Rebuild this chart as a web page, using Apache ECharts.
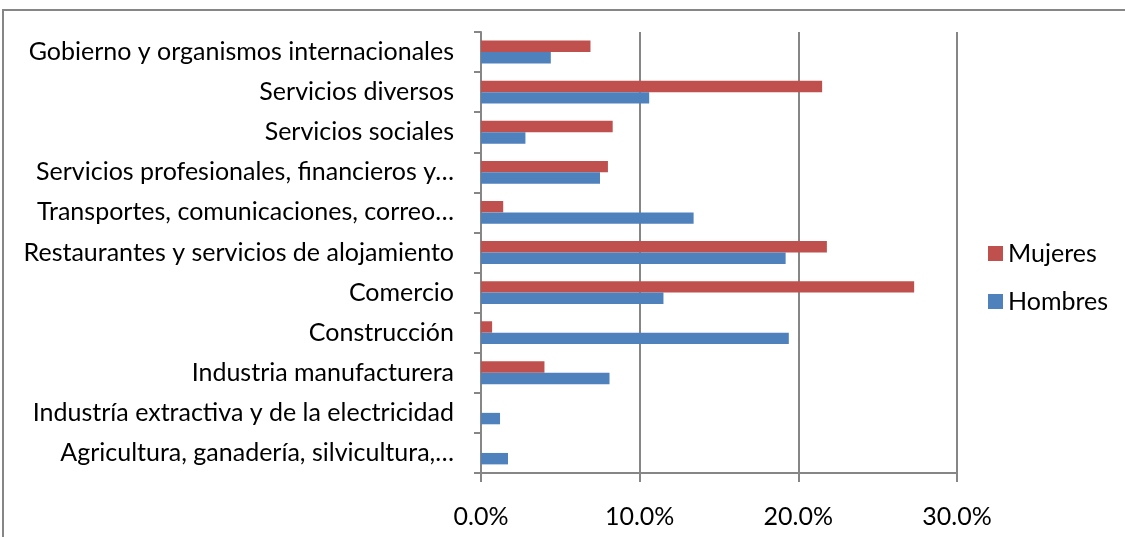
<!DOCTYPE html>
<html>
<head>
<meta charset="utf-8">
<script src="https://cdn.jsdelivr.net/npm/echarts@6/dist/echarts.min.js"></script>
<style>
html,body{margin:0;padding:0;background:#fff;}
#chart{width:1125px;height:537px;}
</style>
</head>
<body>
<div id="chart"></div>
<script>
const categories = [
  'Agricultura, ganadería, silvicultura,…',
  'Industría extractiva y de la electricidad',
  'Industria manufacturera',
  'Construcción',
  'Comercio',
  'Restaurantes y servicios de alojamiento',
  'Transportes, comunicaciones, correo…',
  'Servicios profesionales, financieros y…',
  'Servicios sociales',
  'Servicios diversos',
  'Gobierno y organismos internacionales'
];
const hombres = [1.7, 1.2, 8.1, 19.4, 11.5, 19.2, 13.4, 7.5, 2.8, 10.6, 4.4];
const mujeres = [0, 0, 4.0, 0.7, 27.3, 21.8, 1.4, 8.0, 8.3, 21.5, 6.9];
const xTicks = [0, 10, 20, 30];

const FONT = 'Lato';
const chart = echarts.init(document.getElementById('chart'));
chart.setOption({
  animation: false,
  textStyle: { fontFamily: FONT },
  graphic: [{
    type: 'rect',
    shape: { x: 3, y: 10, width: 1140, height: 560 },
    style: { fill: 'none', stroke: '#868686', lineWidth: 2 },
    silent: true
  }],
  legend: {
    data: ['Mujeres', 'Hombres'],
    orient: 'vertical',
    left: 983,
    top: 236,
    itemWidth: 15,
    itemHeight: 15,
    itemGap: 23,
    icon: 'rect',
    textStyle: { fontSize: 25, color: '#000', fontFamily: FONT }
  },
  grid: { left: 481, right: 168, top: 32, bottom: 64, containLabel: false },
  xAxis: {
    type: 'value',
    min: xTicks[0],
    max: xTicks[xTicks.length - 1],
    interval: 10,
    axisLine: { show: true, lineStyle: { color: '#868686', width: 2 } },
    axisTick: { show: true, length: 9, lineStyle: { color: '#868686', width: 2 } },
    splitLine: { show: true, lineStyle: { color: '#868686', width: 2 } },
    axisLabel: { margin: 31, fontSize: 25, color: '#000', fontFamily: FONT,
      formatter: v => v.toFixed(1) + '%' }
  },
  yAxis: {
    type: 'category',
    data: categories,
    axisLine: { show: true, lineStyle: { color: '#868686', width: 2 } },
    axisTick: { show: true, length: 7, lineStyle: { color: '#868686', width: 2 } },
    axisLabel: { margin: 27, fontSize: 25, color: '#000', fontFamily: FONT, interval: 0 }
  },
  series: [
    { name: 'Mujeres', type: 'bar', data: mujeres, barGap: '0%', barCategoryGap: '43%',
      itemStyle: { color: '#C0504D' } },
    { name: 'Hombres', type: 'bar', data: hombres, barGap: '0%', barCategoryGap: '43%',
      itemStyle: { color: '#4F81BD' } }
  ]
});
</script>
</body>
</html>
